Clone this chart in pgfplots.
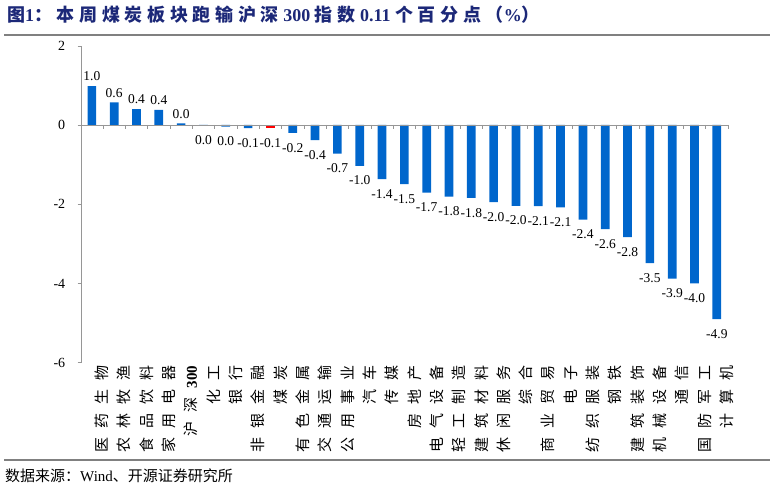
\documentclass[border=0pt]{standalone}
\usepackage{fontspec}
\usepackage{pgfplots}
\pgfplotsset{compat=1.18}
\setmainfont{Liberation Serif}
\newfontfamily\cjk{Noto Sans CJK SC}
\newfontfamily\cjkt{Noto Sans CJK SC}[LetterSpace=26]
\newfontfamily\cjkv{Noto Sans CJK SC}[LetterSpace=60]
\definecolor{barblue}{RGB}{0,102,204}
\definecolor{barred}{RGB}{255,0,0}
\definecolor{titleblue}{RGB}{28,40,120}
\definecolor{axgray}{RGB}{150,150,150}
\newcommand{\cl}[1]{{\cjkv #1}}
\begin{document}
\begin{tikzpicture}
\useasboundingbox (0,0) rectangle (774pt,-486pt);
% title and rules
\node[anchor=base west, inner sep=0pt, text=titleblue, font=\fontsize{18}{19}\selectfont\bfseries]
  at (7pt,-22pt) {{\cjkt 图}1{\cjkt ：本周煤炭板块跑输沪深} 300 {\cjkt 指数} 0.11 {\cjkt 个百分点（}\%{\cjkt ）}};
\draw[gray, line width=2pt] (4pt,-35pt) -- (770pt,-35pt);
\draw[gray, line width=1.5pt] (4pt,-460pt) -- (770pt,-460pt);
\node[anchor=base west, inner sep=0pt, font=\fontsize{15}{16}\selectfont]
  at (5pt,-481pt) {{\cjk 数据来源：}Wind{\cjk 、开源证券研究所}};
\begin{axis}[
    at={(80.7pt,-45.8pt)}, anchor=north west,
    scale only axis,
    width=647.3pt, height=316.8pt,
    ybar, bar width=8.7pt,
    xmin=-0.5, xmax=28.5,
    ymin=-6, ymax=2,
    axis y line*=left,
    axis x line*=bottom,
    x axis line style={draw=none},
    y axis line style={axgray},
    ytick={-6,-4,-2,0,2},
    ytick style={axgray},
    ytick align=outside,
    major tick length=3pt,
    yticklabel style={font=\fontsize{14}{15}\selectfont, xshift=-9pt},
    /pgf/number format/assume math mode=true,
    xtick={0,...,28},
    xtick style={draw=none},
    xticklabel style={rotate=90, anchor=east, font=\fontsize{15}{16}\selectfont, inner sep=0pt, yshift=-10pt},
    xticklabels={\cl{医药生物},\cl{农林牧渔},\cl{食品饮料},\cl{家用电器},{\cl{沪深}\textbf{300}},\cl{化工},\cl{银行},\cl{非银金融},\cl{煤炭},\cl{有色金属},\cl{交通运输},\cl{公用事业},\cl{汽车},\cl{传媒},\cl{房地产},\cl{电气设备},\cl{轻工制造},\cl{建筑材料},\cl{休闲服务},\cl{综合},\cl{商业贸易},\cl{电子},\cl{纺织服装},\cl{钢铁},\cl{建筑装饰},\cl{机械设备},\cl{通信},\cl{国防军工},\cl{计算机}},
    point meta=explicit symbolic,
    clip=false,
  ]
  % positive values, label above
  \addplot[fill=barblue, draw=none, bar shift=0pt, nodes near coords,
    nodes near coords style={font=\fontsize{13.5}{14}\selectfont, inner sep=5pt, anchor=south}] coordinates {
    (0,0.98)[1.0] (1,0.57)[0.6] (2,0.40)[0.4] (3,0.38)[0.4] (4,0.04)[0.0]
  };
  % negative values, label below
  \addplot[fill=barblue, draw=none, bar shift=0pt, nodes near coords,
    nodes near coords style={font=\fontsize{13.5}{14}\selectfont, inner sep=5pt, anchor=north, yshift=-5pt}] coordinates {
    (5,-0.01)[0.0] (6,-0.04)[0.0] (7,-0.08)[-0.1]
    (9,-0.20)[-0.2] (10,-0.38)[-0.4] (11,-0.72)[-0.7] (12,-1.03)[-1.0]
    (13,-1.37)[-1.4] (14,-1.49)[-1.5] (15,-1.71)[-1.7] (16,-1.81)[-1.8]
    (17,-1.84)[-1.8] (18,-1.95)[-2.0] (19,-2.04)[-2.0] (20,-2.05)[-2.1]
    (21,-2.08)[-2.1] (22,-2.39)[-2.4] (23,-2.63)[-2.6] (24,-2.83)[-2.8]
    (25,-3.49)[-3.5] (26,-3.88)[-3.9] (27,-4.00)[-4.0] (28,-4.90)[-4.9]
  };
  % coal sector in red
  \addplot[fill=barred, draw=none, bar shift=0pt, nodes near coords,
    nodes near coords style={font=\fontsize{13.5}{14}\selectfont, inner sep=5pt, anchor=north, yshift=-5pt}] coordinates {(8,-0.08)[-0.1]};
  \draw[axgray] (axis cs:-0.5,0) -- (axis cs:28.5,0);
  \pgfplotsinvokeforeach{0,...,28}{\draw[axgray] (axis cs:#1.5,0) -- ++(0pt,-4pt);}
\end{axis}
\end{tikzpicture}
\end{document}
